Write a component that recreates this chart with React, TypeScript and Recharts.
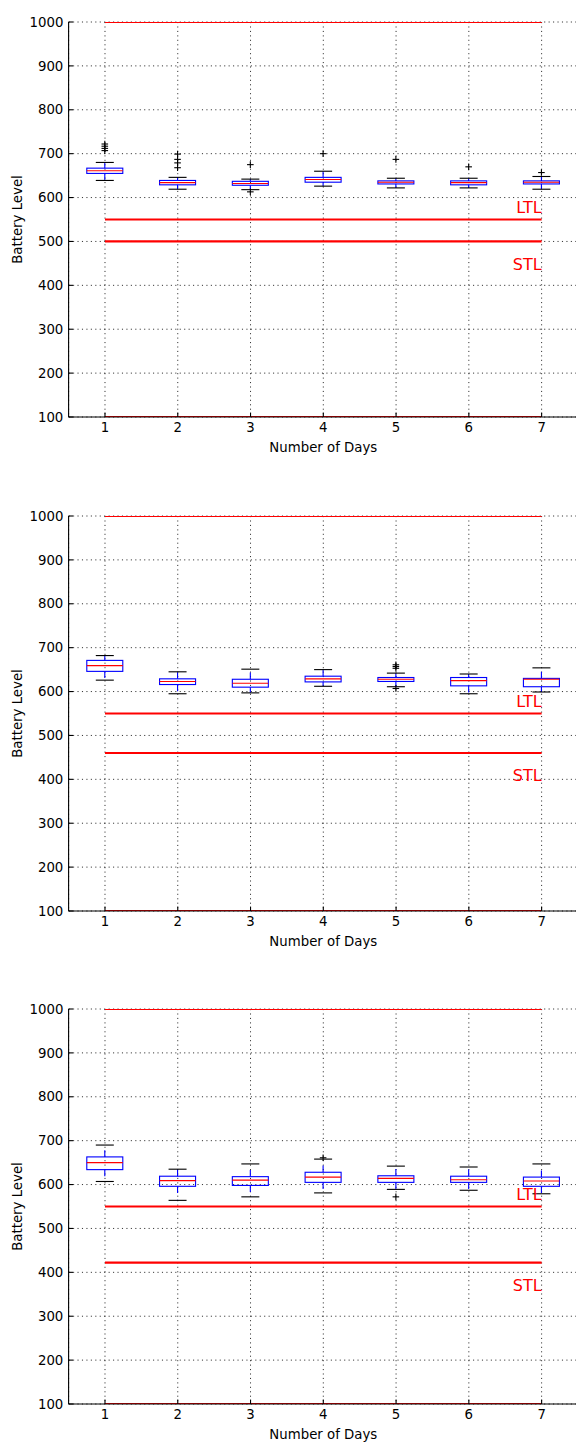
import { ComposedChart, Bar, XAxis, YAxis, CartesianGrid, ReferenceLine } from 'recharts'

const days = ['1', '2', '3', '4', '5', '6', '7']
const yTicks = [100, 200, 300, 400, 500, 600, 700, 800, 900, 1000]
const panelTitles = ['e=5%,Month=January', 'e=10%,Month=January', 'e=15%,Month=January']
const ltlLevels = [550, 550, 550]
const stlLevels = [500, 460, 422]

// e=5%
const whiskerLow5 = [639, 619, 618, 626, 622, 622, 619]
const q1_5 = [655, 629, 628, 635, 631, 629, 631]
const median5 = [661, 634, 632, 641, 635, 634, 635]
const q3_5 = [667, 639, 637, 646, 638, 638, 638]
const whiskerHigh5 = [680, 646, 642, 660, 644, 644, 648]
const fliers5 = [[722, 717, 712, 707], [699, 687, 679, 668], [675, 613], [700], [687], [670], [657]]

// e=10%
const whiskerLow10 = [626, 595, 597, 612, 611, 595, 599]
const q1_10 = [646, 616, 610, 622, 623, 613, 611]
const median10 = [659, 623, 619, 629, 628, 625, 628]
const q3_10 = [671, 629, 628, 635, 632, 632, 630]
const whiskerHigh10 = [682, 645, 651, 650, 642, 640, 654]
const fliers10 = [[], [], [], [], [661, 657, 653, 607], [], []]

// e=15%
const whiskerLow15 = [607, 564, 572, 581, 589, 587, 579]
const q1_15 = [634, 596, 598, 605, 605, 605, 596]
const median15 = [650, 609, 610, 617, 614, 611, 608]
const q3_15 = [663, 619, 618, 628, 620, 619, 617]
const whiskerHigh15 = [690, 635, 647, 658, 642, 640, 647]
const fliers15 = [[], [], [], [661], [572], [], []]

const PT = 80 / 72

function buildRows(low: number[], q1: number[], med: number[], q3: number[], high: number[], fliers: number[][]) {
  return days.map((day, i) => {
    const all = [low[i], high[i], ...fliers[i]]
    return {
      day,
      low: low[i],
      q1: q1[i],
      med: med[i],
      q3: q3[i],
      high: high[i],
      fliers: fliers[i],
      range: [Math.min(...all), Math.max(...all)],
    }
  })
}

const panels = [
  buildRows(whiskerLow5, q1_5, median5, q3_5, whiskerHigh5, fliers5),
  buildRows(whiskerLow10, q1_10, median10, q3_10, whiskerHigh10, fliers10),
  buildRows(whiskerLow15, q1_15, median15, q3_15, whiskerHigh15, fliers15),
]

// box drawn inside the bar's [min, max] pixel span, positions interpolated from the bar's own scale
const BoxShape = (props: any) => {
  const { x, y, width, height, payload } = props
  const [lo, hi] = payload.range
  const py = (v: number) => y + (height * (hi - v)) / (hi - lo)
  const cx = x + width / 2
  const cap = width / 4
  const lw = PT
  return (
    <g>
      <line x1={cx} x2={cx} y1={py(payload.q3)} y2={py(payload.high)} stroke="#0000ff" strokeWidth={lw} strokeDasharray={`${6 * PT} ${6 * PT}`} />
      <line x1={cx} x2={cx} y1={py(payload.q1)} y2={py(payload.low)} stroke="#0000ff" strokeWidth={lw} strokeDasharray={`${6 * PT} ${6 * PT}`} />
      <line x1={cx - cap} x2={cx + cap} y1={py(payload.high)} y2={py(payload.high)} stroke="#000" strokeWidth={lw} />
      <line x1={cx - cap} x2={cx + cap} y1={py(payload.low)} y2={py(payload.low)} stroke="#000" strokeWidth={lw} />
      <rect x={x} y={py(payload.q3)} width={width} height={py(payload.q1) - py(payload.q3)} fill="none" stroke="#0000ff" strokeWidth={lw} />
      <line x1={x} x2={x + width} y1={py(payload.med)} y2={py(payload.med)} stroke="#ff0000" strokeWidth={lw} />
      {payload.fliers.map((f: number, k: number) => (
        <g key={k}>
          <line x1={cx - 3.3} x2={cx + 3.3} y1={py(f)} y2={py(f)} stroke="#000" strokeWidth={lw} />
          <line x1={cx} x2={cx} y1={py(f) - 3.3} y2={py(f) + 3.3} stroke="#000" strokeWidth={lw} />
        </g>
      ))}
    </g>
  )
}

const thresholdLabel = (text: string, dy: number) => (props: any) => {
  const vb = props.viewBox
  if (!vb) return null
  return (
    <text x={vb.x + vb.width} y={vb.y + dy} textAnchor="end" fill="#ff0000" fontSize={16} fontFamily="DejaVu Sans">
      {text}
    </text>
  )
}

function Panel({ idx }: { idx: number }) {
  const rows = panels[idx]
  const ltl = ltlLevels[idx]
  const stl = stlLevels[idx]
  return (
    <ComposedChart
      width={590}
      height={494}
      data={rows}
      margin={{ top: 22, right: 12, bottom: 37, left: 0 }}
      barCategoryGap="25%"
      style={{ fontFamily: 'DejaVu Sans' }}
    >
      <CartesianGrid stroke="#000" strokeWidth={0.8} strokeDasharray={`${PT} ${3 * PT}`} />
      <XAxis
        dataKey="day"
        type="category"
        interval={0}
        height={40}
        tickSize={-4 * PT}
        tickMargin={10.4}
        axisLine={{ stroke: '#000', strokeWidth: PT }}
        tickLine={{ stroke: '#000', strokeWidth: PT }}
        tick={{ fill: '#000', fontSize: 13.3 }}
        label={{ value: 'Number of Days', position: 'insideBottom', offset: 5, fill: '#000', fontSize: 13.3 }}
      />
      <XAxis
        xAxisId="top"
        dataKey="day"
        orientation="top"
        interval={0}
        height={0}
        tickSize={-4 * PT}
        tick={false}
        axisLine={{ stroke: '#000', strokeWidth: PT }}
        tickLine={{ stroke: '#000', strokeWidth: PT }}
        label={{ value: panelTitles[idx], position: 'top', offset: 4, fill: '#000', fontSize: 16 }}
      />
      <YAxis
        type="number"
        domain={[100, 1000]}
        ticks={yTicks}
        interval={0}
        width={68.6}
        tickSize={-4 * PT}
        tickMargin={9.7}
        axisLine={{ stroke: '#000', strokeWidth: PT }}
        tickLine={{ stroke: '#000', strokeWidth: PT }}
        tick={{ fill: '#000', fontSize: 13.3 }}
        label={{
          value: 'Battery Level',
          angle: -90,
          position: 'insideLeft',
          offset: 17,
          fill: '#000',
          fontSize: 13.3,
          style: { textAnchor: 'middle' },
        }}
      />
      <ReferenceLine segment={[{ x: '1', y: 1000 }, { x: '7', y: 1000 }]} stroke="#ff0000" strokeWidth={2 * PT} ifOverflow="hidden" />
      <ReferenceLine segment={[{ x: '1', y: 100 }, { x: '7', y: 100 }]} stroke="#ff0000" strokeWidth={2 * PT} ifOverflow="hidden" />
      <ReferenceLine
        segment={[{ x: '1', y: ltl }, { x: '7', y: ltl }]}
        stroke="#ff0000"
        strokeWidth={2 * PT}
        label={thresholdLabel('LTL', -7)}
      />
      <ReferenceLine
        segment={[{ x: '1', y: stl }, { x: '7', y: stl }]}
        stroke="#ff0000"
        strokeWidth={2 * PT}
        label={thresholdLabel('STL', 28.4)}
      />
      <Bar dataKey={(d: any) => d.range} shape={(p: any) => <BoxShape {...p} />} isAnimationActive={false} />
    </ComposedChart>
  )
}

export default function App() {
  return (
    <div style={{ position: 'absolute', left: 0, top: 0, width: 576, height: 1443, overflow: 'hidden', background: '#fff' }}>
      {panels.map((_, i) => (
        <div key={i} style={{ position: 'absolute', left: 0, top: Math.round(i * 493.5) }}>
          <Panel idx={i} />
        </div>
      ))}
    </div>
  )
}
